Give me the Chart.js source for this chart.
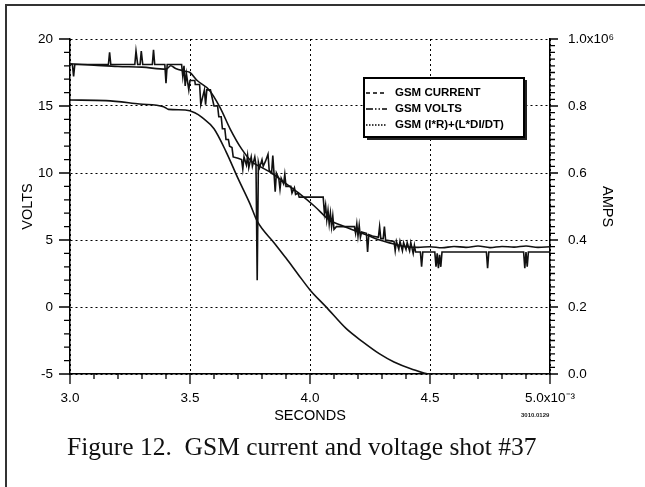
<!DOCTYPE html>
<html>
<head>
<meta charset="utf-8">
<script src="https://cdn.jsdelivr.net/npm/chart.js@4.4.1/dist/chart.umd.min.js"></script>
<style>
  html, body { margin: 0; padding: 0; background: #fff; }
  #wrap { position: relative; width: 645px; height: 487px; overflow: hidden; }
  #frame { position: absolute; left: 5px; top: 4px; width: 700px; height: 600px;
           border-left: 2px solid #333; border-top: 2px solid #333; }
  #chart { position: absolute; left: 0; top: 0; }
  #caption { position: absolute; left: 67px; top: 434px; font-family: "Liberation Serif", serif;
             font-size: 25.5px; line-height: 1; white-space: pre; color: #111; }
  #code { position: absolute; left: 521px; top: 412px; font-family: "Liberation Sans", sans-serif;
          font-size: 6px; font-weight: bold; color: #222; }
</style>
</head>
<body>
<div id="wrap">
  <div id="frame"></div>
  <canvas id="chart" width="645" height="487"></canvas>
  <div id="code">3010.0129</div>
  <div id="caption">Figure 12.  GSM current and voltage shot #37</div>
</div>
<script>
// time in ms (axis reads x10^-3 s)
const currentTime = [3.00, 3.15, 3.29, 3.39, 3.41, 3.48, 3.52, 3.55, 3.60, 3.65, 3.70, 3.75, 3.78,
                     3.85, 3.90, 3.95, 4.00, 4.07, 4.15, 4.22, 4.29, 4.35, 4.42, 4.50, 4.70, 5.00];
// current in units of 10^6 A (right axis)
const currentAmps = [0.818, 0.816, 0.806, 0.798, 0.790, 0.788, 0.780, 0.766, 0.732, 0.664, 0.584, 0.508, 0.456,
                     0.392, 0.346, 0.298, 0.251, 0.198, 0.136, 0.096, 0.060, 0.036, 0.016, 0.000, 0.000, 0.000];

const voltsTime = [3.000, 3.010, 3.015, 3.020, 3.160, 3.165, 3.170, 3.270, 3.275, 3.282, 3.292, 3.297, 3.303,
  3.343, 3.348, 3.353, 3.395, 3.400, 3.405, 3.465, 3.470, 3.475, 3.480, 3.485, 3.495, 3.500, 3.520, 3.522,
  3.540, 3.545, 3.560, 3.565, 3.570, 3.585, 3.590, 3.600, 3.615, 3.620, 3.630, 3.635, 3.645, 3.650, 3.660,
  3.665, 3.675, 3.680, 3.700, 3.715, 3.720, 3.725, 3.735, 3.740, 3.745, 3.755, 3.760, 3.770, 3.775, 3.780,
  3.785, 3.790, 3.800, 3.805, 3.815, 3.825, 3.830, 3.840, 3.845, 3.850, 3.855, 3.860, 3.870, 3.875, 3.880,
  3.890, 3.895, 3.900, 3.920, 3.925, 3.935, 3.940, 3.950, 3.955, 4.055, 4.060, 4.065, 4.070, 4.075, 4.080,
  4.085, 4.090, 4.095, 4.100, 4.110, 4.185, 4.190, 4.195, 4.200, 4.205, 4.210, 4.215, 4.235, 4.240, 4.245,
  4.260, 4.285, 4.290, 4.295, 4.305, 4.310, 4.315, 4.350, 4.355, 4.360, 4.370, 4.375, 4.385, 4.390, 4.400,
  4.405, 4.415, 4.420, 4.430, 4.435, 4.440, 4.460, 4.465, 4.470, 4.520, 4.525, 4.530, 4.535, 4.540, 4.545,
  4.550, 4.735, 4.740, 4.745, 4.890, 4.895, 4.900, 4.905, 4.910, 5.000];
const voltsValues = [18.1, 18.1, 17.2, 18.1, 18.1, 19.0, 18.1, 18.1, 19.1, 18.1, 18.1, 19.1, 18.1,
  18.1, 19.2, 18.1, 18.1, 16.7, 18.1, 18.1, 17.2, 18.0, 16.5, 17.4, 16.2, 16.9, 16.9, 16.6,
  16.6, 15.1, 16.2, 15.1, 16.2, 16.2, 15.8, 15.0, 15.0, 14.2, 14.2, 13.3, 13.3, 12.5, 12.5,
  12.0, 11.9, 11.2, 11.1, 11.0, 10.3, 11.2, 10.6, 11.3, 10.4, 11.2, 10.5, 11.2, 10.6, 2.0,
  10.8, 10.4, 11.0, 10.5, 10.9, 11.4, 10.2, 10.0, 11.3, 10.0, 8.6, 10.0, 9.6, 8.8, 9.6,
  9.2, 9.9, 9.0, 9.0, 8.5, 8.9, 8.4, 8.5, 8.2, 8.2, 7.0, 7.6, 6.5, 7.2, 6.2,
  7.0, 6.0, 6.8, 5.8, 6.0, 6.0, 5.5, 6.2, 5.3, 6.1, 5.2, 5.6, 5.5, 4.1, 5.4,
  5.3, 5.2, 6.0, 5.1, 5.1, 6.0, 5.0, 4.9, 4.2, 4.9, 4.3, 4.9, 4.2, 4.8, 4.3,
  4.8, 4.2, 4.8, 4.0, 4.6, 4.1, 4.1, 3.0, 4.1, 4.1, 3.0, 4.0, 2.9, 3.9, 3.0,
  4.1, 4.1, 2.9, 4.1, 4.1, 2.9, 4.1, 3.0, 4.1, 4.1];

const calcTime = [3.00, 3.10, 3.20, 3.30, 3.40, 3.42, 3.44, 3.48, 3.50, 3.53, 3.58, 3.625, 3.667, 3.715,
  3.76, 3.80, 3.84, 3.90, 3.96, 4.02, 4.08, 4.13, 4.18, 4.24, 4.29, 4.35, 4.40, 4.45, 4.50, 4.55, 4.60,
  4.65, 4.70, 4.75, 4.80, 4.85, 4.90, 4.95, 5.00];
const calcValues = [18.15, 18.05, 17.95, 17.9, 17.75, 18.0, 17.8, 17.6, 17.5, 16.9, 16.2, 14.9, 13.3, 11.8,
  10.8, 10.4, 10.0, 9.2, 8.4, 7.5, 6.5, 6.1, 5.75, 5.35, 5.0, 4.7, 4.5, 4.45, 4.5, 4.42, 4.52,
  4.45, 4.55, 4.43, 4.52, 4.47, 4.55, 4.45, 4.5];

const seriesNames = ['GSM CURRENT', 'GSM VOLTS', 'GSM (I*R)+(L*DI/DT)'];
const legendDashes = [[4, 3], [7, 2, 1.5, 2, 1.5, 2], [1.5, 1.5]];

const INK = '#000';
const tickFont = { family: '"Liberation Sans", Arial, sans-serif', size: 13.5 };
const titleFont = { family: '"Liberation Sans", Arial, sans-serif', size: 14.5 };

function pairs(xs, ys) { return xs.map((x, i) => ({ x: x, y: ys[i] })); }

// minor/major tick marks drawn on the three axes
const axisTicks = {
  id: 'axisTicks',
  afterDraw(chart) {
    const ctx = chart.ctx, a = chart.chartArea;
    const sx = chart.scales.x, sy = chart.scales.y, sy1 = chart.scales.y1;
    ctx.save();
    ctx.strokeStyle = INK;
    ctx.lineWidth = 1.3;
    ctx.beginPath();
    for (let i = 0; i <= 20; i++) {
      const px = sx.getPixelForValue(3 + i * 0.1);
      ctx.moveTo(px, a.bottom);
      ctx.lineTo(px, a.bottom + (i % 5 === 0 ? 10 : 5));
    }
    for (let i = 0; i <= 25; i++) {
      const py = sy.getPixelForValue(-5 + i);
      ctx.moveTo(a.left, py);
      ctx.lineTo(a.left - (i % 5 === 0 ? 11 : 6), py);
    }
    for (let i = 0; i <= 50; i++) {
      const py = sy1.getPixelForValue(i * 0.02);
      ctx.moveTo(a.right, py);
      ctx.lineTo(a.right + (i % 10 === 0 ? 8 : 5), py);
    }
    ctx.stroke();
    ctx.restore();
  }
};

// boxed legend with line-style samples
const boxLegend = {
  id: 'boxLegend',
  afterDraw(chart) {
    const ctx = chart.ctx;
    const bx = 364, by = 78, bw = 160, bh = 59;
    ctx.save();
    ctx.fillStyle = '#fff';
    ctx.fillRect(bx, by, bw, bh);
    ctx.fillStyle = '#222';
    ctx.fillRect(bx + 3, by + bh, bw, 3);
    ctx.fillRect(bx + bw, by + 2, 3, bh + 1);
    ctx.strokeStyle = INK;
    ctx.lineWidth = 2;
    ctx.strokeRect(bx, by, bw, bh);
    ctx.font = 'bold 11.5px "Liberation Sans", Arial, sans-serif';
    ctx.textBaseline = 'middle';
    ctx.fillStyle = INK;
    seriesNames.forEach((name, i) => {
      const y = by + 15 + i * 16;
      ctx.beginPath();
      ctx.setLineDash(legendDashes[i]);
      ctx.lineWidth = 1.3;
      ctx.moveTo(bx + 2, y);
      ctx.lineTo(bx + 23, y);
      ctx.stroke();
      ctx.setLineDash([]);
      ctx.fillText(name, bx + 31, y);
    });
    ctx.restore();
  }
};

const lineStyle = { borderColor: '#111', borderWidth: 1.6, pointRadius: 0, tension: 0, fill: false };

new Chart(document.getElementById('chart'), {
  type: 'line',
  data: {
    datasets: [
      Object.assign({ label: seriesNames[0], data: pairs(currentTime, currentAmps), yAxisID: 'y1' }, lineStyle,
                    { cubicInterpolationMode: 'monotone' }),
      Object.assign({ label: seriesNames[1], data: pairs(voltsTime, voltsValues), yAxisID: 'y' }, lineStyle),
      Object.assign({ label: seriesNames[2], data: pairs(calcTime, calcValues), yAxisID: 'y' }, lineStyle,
                    { cubicInterpolationMode: 'monotone' })
    ]
  },
  options: {
    responsive: false,
    animation: false,
    devicePixelRatio: 1,
    layout: { padding: { left: 6, right: 0, top: 39, bottom: 0 } },
    plugins: { legend: { display: false }, tooltip: { enabled: false } },
    scales: {
      x: {
        type: 'linear', min: 3, max: 5,
        afterFit(s) { s.height = 113; },
        ticks: { stepSize: 0.5, padding: 16, color: INK, font: tickFont, maxRotation: 0,
                 callback: v => v === 5 ? '5.0x10\u207B\u00B3' : v.toFixed(1) },
        grid: { color: INK, lineWidth: 1, drawTicks: false },
        border: { color: INK, width: 1.5, dash: [2, 3] },
        title: { display: true, text: 'SECONDS', color: INK, font: titleFont, padding: { top: 0, bottom: 62 } }
      },
      y: {
        type: 'linear', position: 'left', min: -5, max: 20,
        afterFit(s) { s.width = 64; },
        ticks: { stepSize: 5, padding: 17, color: INK, font: tickFont },
        grid: { color: INK, lineWidth: 1, drawTicks: false },
        border: { color: INK, width: 1.5, dash: [2, 3] },
        title: { display: true, text: 'VOLTS', color: INK, font: titleFont, padding: { top: 13, bottom: 0 } }
      },
      y1: {
        type: 'linear', position: 'right', min: 0, max: 1,
        afterFit(s) { s.width = 95; },
        ticks: { stepSize: 0.2, padding: 18, color: INK, font: tickFont,
                 callback: v => Math.abs(v - 1) < 1e-9 ? '1.0x10\u2076' : v.toFixed(1) },
        grid: { display: false, drawTicks: false },
        border: { color: INK, width: 1.5 },
        title: { display: true, text: 'AMPS', color: INK, font: titleFont, padding: { top: 29, bottom: 0 } }
      }
    }
  },
  plugins: [axisTicks, boxLegend]
});
</script>
</body>
</html>
